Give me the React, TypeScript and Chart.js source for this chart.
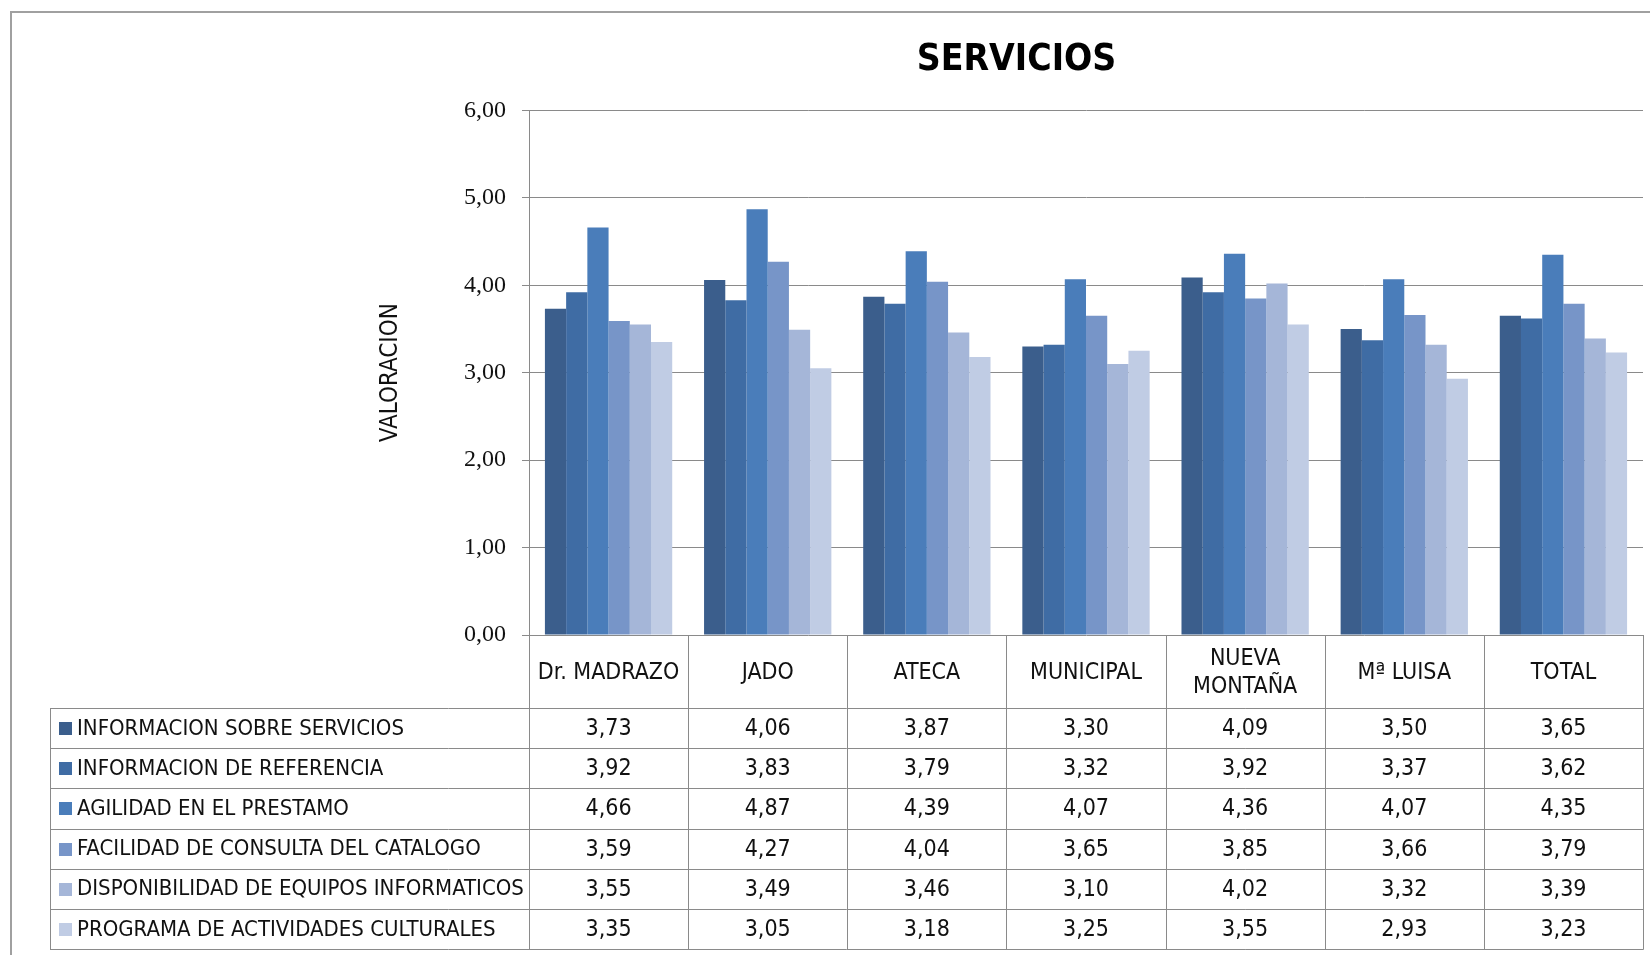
import React, { useEffect, useRef } from "react";
import { Chart, registerables } from "chart.js";

Chart.register(...registerables);

// ---- Data ----
const categories: string[][] = [
  ["Dr. MADRAZO"],
  ["JADO"],
  ["ATECA"],
  ["MUNICIPAL"],
  ["NUEVA", "MONTAÑA"],
  ["Mª LUISA"],
  ["TOTAL"],
];

const seriesNames = [
  "INFORMACION SOBRE SERVICIOS",
  "INFORMACION DE REFERENCIA",
  "AGILIDAD EN EL PRESTAMO",
  "FACILIDAD DE CONSULTA DEL CATALOGO",
  "DISPONIBILIDAD DE EQUIPOS INFORMATICOS",
  "PROGRAMA DE ACTIVIDADES CULTURALES",
];

const infoServicios = [3.73, 4.06, 3.87, 3.3, 4.09, 3.5, 3.65];
const infoReferencia = [3.92, 3.83, 3.79, 3.32, 3.92, 3.37, 3.62];
const agilidadPrestamo = [4.66, 4.87, 4.39, 4.07, 4.36, 4.07, 4.35];
const facilidadCatalogo = [3.59, 4.27, 4.04, 3.65, 3.85, 3.66, 3.79];
const disponibilidadEquipos = [3.55, 3.49, 3.46, 3.1, 4.02, 3.32, 3.39];
const programaActividades = [3.35, 3.05, 3.18, 3.25, 3.55, 2.93, 3.23];

const seriesValues = [
  infoServicios,
  infoReferencia,
  agilidadPrestamo,
  facilidadCatalogo,
  disponibilidadEquipos,
  programaActividades,
];

const seriesColors = ["#3B5E8C", "#3F6CA4", "#4A7DBA", "#7795C8", "#A5B6D8", "#C0CCE4"];

const yMin = 0;
const yMax = 6;
const yStep = 1;

const titleText = "SERVICIOS";
const yTitleText = "VALORACION";

// ---- Styles ----
const NARROW = "'Liberation Sans Narrow', 'DejaVu Sans Condensed', 'Liberation Sans', sans-serif";
const SERIF = "'Liberation Serif', 'DejaVu Serif', serif";
const GRID = "#8a8a8a";
const TEXT = "#111111";
const W = 1650;
const H = 955;

const fmt = (v: number) => Number(v).toFixed(2).replace(".", ",");

const tablePlugin = {
  id: "dataTable",
  afterDraw(chart: any) {
    const { ctx, chartArea } = chart;
    const xs = chart.scales.x;
    const labels = chart.data.labels as any[];
    const datasets = chart.data.datasets as any[];
    const n = labels.length;
    const colW = (chartArea.right - chartArea.left) / n;
    const headerTop = chartArea.bottom;
    const rowsTop = 708;
    const tableBottom = 949;
    const tableLeft = 50;
    const rows = datasets.length;
    const rowH = (tableBottom - rowsTop) / rows;

    const line = (x1: number, y1: number, x2: number, y2: number) => {
      ctx.beginPath();
      ctx.moveTo(x1, y1);
      ctx.lineTo(x2, y2);
      ctx.stroke();
    };

    ctx.save();
    ctx.strokeStyle = GRID;
    ctx.lineWidth = 1;
    for (let k = 0; k <= n; k++) {
      const x = Math.round(chartArea.left + k * colW) + 0.5;
      line(x, headerTop, x, tableBottom + 0.5);
    }
    for (let r = 0; r <= rows; r++) {
      const y = Math.round(rowsTop + r * rowH) + 0.5;
      line(tableLeft, y, chartArea.right + 0.5, y);
    }
    line(tableLeft + 0.5, rowsTop, tableLeft + 0.5, tableBottom + 0.5);

    // header labels
    ctx.fillStyle = TEXT;
    ctx.font = `23px ${NARROW}`;
    ctx.textAlign = "center";
    ctx.textBaseline = "middle";
    const headerMid = (headerTop + rowsTop) / 2 + 2;
    labels.forEach((lab: any, i: number) => {
      const cx = xs.getPixelForValue(i);
      const lines = Array.isArray(lab) ? lab : [lab];
      const lh = 28;
      lines.forEach((t: string, j: number) => {
        ctx.fillText(t, cx, headerMid + (j - (lines.length - 1) / 2) * lh);
      });
    });

    // rows
    datasets.forEach((ds: any, r: number) => {
      const cy = rowsTop + (r + 0.5) * rowH;
      ctx.fillStyle = ds.backgroundColor;
      ctx.fillRect(59, Math.round(cy - 6), 13, 13);
      ctx.fillStyle = TEXT;
      ctx.textAlign = "left";
      ctx.font = `22px ${NARROW}`;
      ctx.fillText(ds.label, 77, cy + 1);
      ctx.textAlign = "center";
      ctx.font = `23px ${NARROW}`;
      (ds.data as number[]).forEach((v, i) => {
        ctx.fillText(fmt(v), xs.getPixelForValue(i), cy + 1);
      });
    });

    // outer frame
    ctx.strokeStyle = "#a0a0a0";
    ctx.lineWidth = 2;
    line(11, 12, 11, H);
    line(10, 12, W, 12);
    ctx.restore();
  },
};

export default function App() {
  const canvasRef = useRef<HTMLCanvasElement | null>(null);

  useEffect(() => {
    document.body.style.margin = "0";
    const canvas = canvasRef.current;
    if (!canvas) return;
    const chart = new Chart(canvas, {
      type: "bar",
      data: {
        labels: categories,
        datasets: seriesNames.map((name, i) => ({
          label: name,
          data: seriesValues[i],
          backgroundColor: seriesColors[i],
          borderWidth: 0,
          categoryPercentage: 0.8,
          barPercentage: 1.0,
        })),
      },
      options: {
        responsive: false,
        animation: false,
        layout: { padding: { top: 11, left: 390, right: 7, bottom: 0 } },
        plugins: {
          legend: { display: false },
          tooltip: { enabled: false },
          title: {
            display: true,
            text: titleText,
            color: "#000",
            font: { family: NARROW, size: 37, weight: "bold" },
            padding: { top: 27, bottom: 28 },
          },
        },
        scales: {
          x: {
            display: true,
            ticks: { display: false },
            grid: { display: false },
            border: { display: false },
            afterFit: (s: any) => {
              s.height = 320;
            },
          },
          y: {
            min: yMin,
            max: yMax,
            ticks: {
              stepSize: yStep,
              callback: (v: any) => fmt(v),
              font: { family: SERIF, size: 24 },
              color: TEXT,
              padding: 16,
            },
            grid: { color: GRID, tickLength: 7, drawTicks: true },
            border: { color: GRID },
            title: {
              display: true,
              text: yTitleText,
              color: TEXT,
              font: { family: NARROW, size: 24 },
              padding: { top: -14, bottom: 0 },
            },
            afterFit: (s: any) => {
              s.width = 139;
            },
          },
        },
      },
      plugins: [tablePlugin],
    } as any);
    return () => chart.destroy();
  }, []);

  return (
    <div style={{ width: W, height: H, background: "#fff" }}>
      <canvas ref={canvasRef} width={W} height={H} style={{ display: "block" }} />
    </div>
  );
}
